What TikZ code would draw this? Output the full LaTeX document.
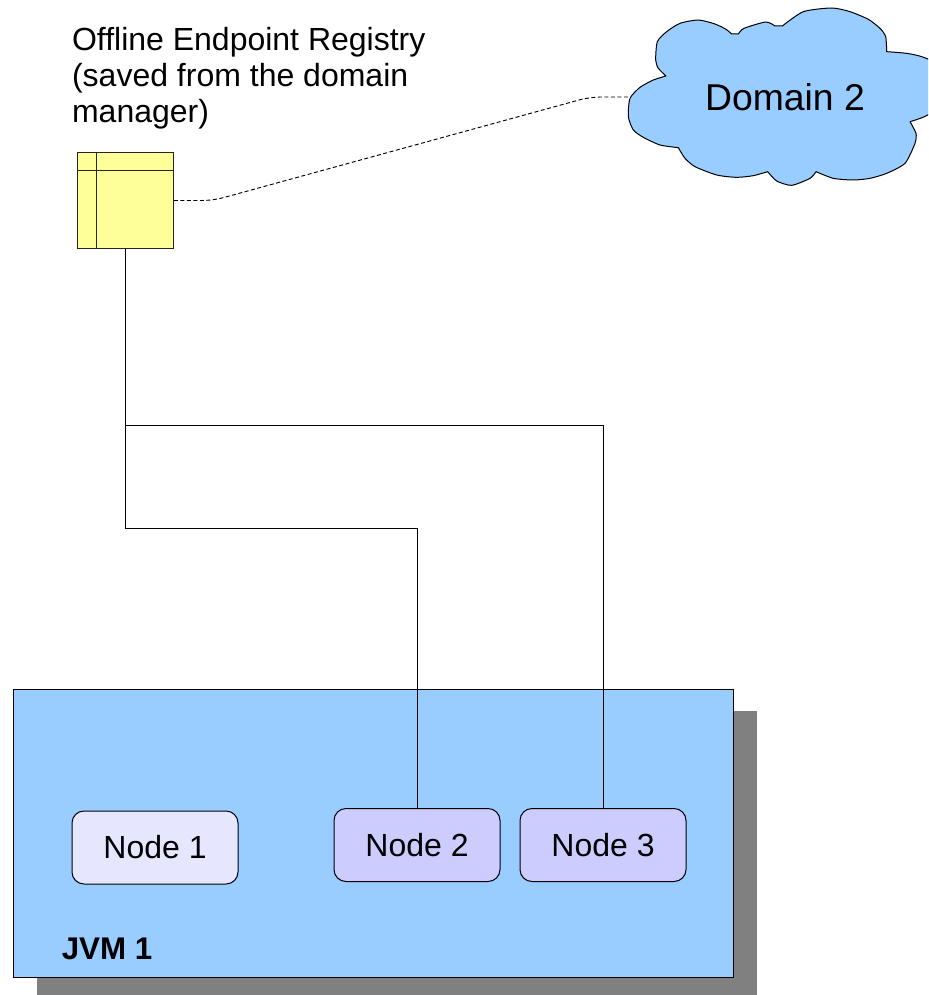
\documentclass[tikz,border=0pt]{standalone}
\usepackage{fontspec}
\setmainfont{Liberation Sans}
\definecolor{jvmblue}{HTML}{99CCFF}
\definecolor{nodelight}{HTML}{E6E6FF}
\definecolor{nodemid}{HTML}{CCCCFF}
\definecolor{regyellow}{HTML}{FFFF99}
\definecolor{shadowgrey}{HTML}{808080}
\tikzset{
  x=0.75pt,y=-0.75pt,
  linew/.style={draw=black,line width=0.75pt},
  jvmbox/.style={linew,fill=jvmblue,minimum width=540pt,minimum height=216pt,inner sep=0pt,outer sep=0pt},
  shadowbox/.style={fill=shadowgrey,draw=none,minimum width=540pt,minimum height=213pt,inner sep=0pt,outer sep=0pt},
  jnode/.style={linew,rounded corners=9pt,minimum width=124.5pt,minimum height=54.75pt,inner sep=0pt,outer sep=0pt,font=\fontsize{24pt}{28pt}\selectfont},
  regbox/.style={linew,draw=black!85!regyellow,fill=regyellow,minimum width=72pt,minimum height=72pt,inner sep=0pt,outer sep=0pt},
  conn/.style={linew},
  dashconn/.style={draw=black,line width=0.7pt,dash pattern=on 3pt off 1.9pt,rounded corners=8pt},
}
\begin{document}
\begin{tikzpicture}
\useasboundingbox (0,0) rectangle (928,995);
% shadow and JVM
\begin{scope}
\clip (0,0) rectangle (928,995);
\node[shadowbox,anchor=north west] (shadow) at (36.5,711) {};
\end{scope}
\node[jvmbox,anchor=north west] (jvm) at (13.5,689) {};
\node[anchor=base west,inner sep=0pt,font=\fontsize{23.5pt}{28pt}\selectfont\bfseries] (jvmlabel) at (61.5,959) {JVM 1};
% cloud
\begin{scope}[x=0.25pt,y=-0.25pt,shift={(1860,0)}]
\clip (0,0) rectangle (924,600);
\draw[linew,fill=jvmblue,line join=round]
  plot[smooth,tension=0.4] coordinates {(138,228) (115,205) (107,180) (112,125) (140,95) (180,70) (235,60) (285,72) (318,88) (335,102)}
  -- (355,102)
  -- plot[smooth,tension=0.4] coordinates {(355,102) (372,85) (437,66) (465,78)}
  -- (487,78)
  -- plot[smooth,tension=0.4] coordinates {(487,78) (550,35) (635,24) (690,35) (745,58) (780,85) (797,110) (800,155)}
  -- plot[smooth,tension=0.4] coordinates {(800,155) (860,160) (905,170) (940,190) (950,270) (930,340) (870,365)}
  -- plot[smooth,tension=0.4] coordinates {(870,365) (888,400) (885,430) (855,490) (800,520) (750,535) (700,540) (640,535) (588,515)}
  -- plot[smooth,tension=0.4] coordinates {(588,515) (570,535) (515,556) (470,543) (443,515)}
  -- plot[smooth,tension=0.4] coordinates {(443,515) (400,527) (350,532) (290,525) (225,500) (195,475) (175,443)}
  -- plot[smooth,tension=0.4] coordinates {(175,443) (120,435) (70,412) (40,390) (25,350) (30,295) (60,262) (100,240) (138,228)}
  -- cycle;
\end{scope}
\node[inner sep=0pt,font=\fontsize{28pt}{32pt}\selectfont] (domain) at (785,97) {Domain 2};
\coordinate (cloudW) at (628,97);
% registry
\node[regbox,anchor=north west] (reg) at (77.8,152.5) {};
\draw[linew,draw=black!85!regyellow] (reg.north west) ++(18.5,0) -- ++(0,96);
\draw[linew,draw=black!85!regyellow] (reg.north west) ++(0,18.5) -- ++(96,0);
\node[anchor=north west,inner sep=0pt,align=left,font=\fontsize{24pt}{27pt}\selectfont] (title) at (71.8,27) {Offline Endpoint Registry\\(saved from the domain\\manager)};
% nodes
\node[jnode,fill=nodelight] (n1) at (155,847.5) {Node 1};
\node[jnode,fill=nodemid] (n2) at (417,845) {Node 2};
\node[jnode,fill=nodemid] (n3) at (603,845) {Node 3};
% connectors
\coordinate (branch) at (reg.south |- 0,425.8);
\draw[conn] (reg.south) -- (reg.south |- 0,528) -- (n2.north |- 0,528) -- (n2.north);
\draw[conn] (branch) -- (n3.north |- 0,425.8) -- (n3.north);
\draw[dashconn] (reg.east |- 0,200.5) -- (213,200.5) -- (590,97) -- (cloudW);
\end{tikzpicture}
\end{document}
